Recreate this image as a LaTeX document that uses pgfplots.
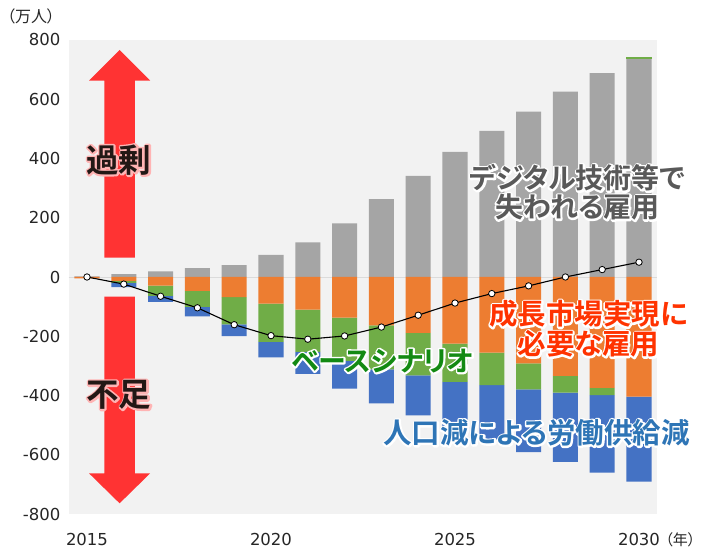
\documentclass[border=0pt]{standalone}
\usepackage{pgfplots}
\pgfplotsset{compat=1.18}
\usepackage{pgfplotstable}
\usepackage{fontspec}
\setmainfont{DejaVu Sans}
\newfontfamily\jp{Noto Sans CJK JP}[BoldFont={Noto Sans CJK JP Bold}, RawFeature=+palt]
\usetikzlibrary{calc}

\definecolor{cgray}{HTML}{A5A5A5}
\definecolor{corange}{HTML}{ED7D31}
\definecolor{cgreen}{HTML}{70AD47}
\definecolor{cblue}{HTML}{4472C4}
\definecolor{bgc}{HTML}{F2F2F2}
\definecolor{arrowred}{HTML}{FF3333}
\definecolor{tgray}{HTML}{595959}
\definecolor{tred}{HTML}{FF3300}
\definecolor{tgreen}{HTML}{138A13}
\definecolor{tblue}{HTML}{2E75B6}
\definecolor{tblack}{HTML}{231815}
\definecolor{glowpink}{HTML}{FFB4B4}

\pgfplotstableread{
year gray greenpos orange greenneg blue net
2015 2 0 -5 0 0 0
2016 10 0 -13 -7 -14 -24
2017 19 0 -29 -35 -20 -65
2018 30 0 -47 -54 -32 -104
2019 40 0 -68 -92 -40 -161
2020 75 0 -90 -129 -52 -198
2021 117 0 -110 -143 -74 -210
2022 181 0 -137 -146 -94 -199
2023 263 0 -163 -149 -115 -169
2024 341 0 -189 -143 -135 -129
2025 422 0 -225 -129 -156 -88
2026 493 0 -255 -110 -184 -56
2027 558 0 -292 -87 -212 -30
2028 626 0 -334 -56 -234 0
2029 688 0 -374 -25 -261 25
2030 735 8 -404 0 -287 50
}\data

\pgfplotsset{base/.style={scale only axis, width=588.8pt, height=474pt,
  xmin=2014.5, xmax=2030.5, ymin=-800, ymax=800, at={(0pt,0pt)}, anchor=south west}}

% outlined text: one stroked copy (text render mode 1) under one filled copy
\newcommand\otext[5]{%
  \node[#4,text=#3] at (#1) {\special{pdf:literal direct 1 Tr 3.6 w 1 j 1 J}#5\special{pdf:literal direct 0 Tr}};
  \node[#4,text=#2] at (#1) {#5};}

\begin{document}
\begin{tikzpicture}
\path[use as bounding box] (-68.6pt,-34pt) rectangle (633.4pt,514pt);

\begin{axis}[base, ybar stacked, bar width=0.68,
  axis background/.style={fill=bgc},
  axis line style={draw=none}, major tick length=0pt,
  xtick={2015,2020,2025,2030}, xticklabels={2015,2020,2025,2030},
  ytick={-800,-600,...,800},
  yticklabels={-800,-600,-400,-200,0,200,400,600,800},
  ticklabel style={font=\fontsize{16.5}{18}\selectfont, text=black!85},
  yticklabel style={anchor=east, inner sep=0pt, xshift=-8pt},
  xticklabel style={anchor=north, inner sep=0pt, yshift=-19pt}]
\draw[color=black!14, line width=0.8pt] (axis cs:2014.5,0) -- (axis cs:2030.5,0);
\addplot[fill=cgray, draw=none] table[x=year,y=gray]{\data};
\addplot[fill=cgreen, draw=none] table[x=year,y=greenpos]{\data};
\end{axis}

\begin{axis}[base, hide axis, ybar stacked, bar width=0.68]
\addplot[fill=corange, draw=none] table[x=year,y=orange]{\data};
\addplot[fill=cgreen, draw=none] table[x=year,y=greenneg]{\data};
\addplot[fill=cblue, draw=none] table[x=year,y=blue]{\data};
\end{axis}

\begin{axis}[base, hide axis]
\addplot[black, line width=1.1pt, mark=*, mark size=3.2pt,
  mark options={fill=white, draw=black, line width=0.8pt}] table[x=year,y=net]{\data};
\end{axis}

% arrows
\fill[arrowred] (35.7pt,256.3pt) -- (35.7pt,433.3pt) -- (20.4pt,433.3pt) -- (51pt,464pt)
  -- (81.6pt,433.3pt) -- (66.3pt,433.3pt) -- (66.3pt,256.3pt) -- cycle;
\fill[arrowred] (35.7pt,217.3pt) -- (35.7pt,40.7pt) -- (20.4pt,40.7pt) -- (51pt,10.7pt)
  -- (81.6pt,40.7pt) -- (66.3pt,40.7pt) -- (66.3pt,217.3pt) -- cycle;

\otext{50.4pt,354pt}{tblack}{glowpink}{font={\jp\bfseries\fontsize{32.5}{34}\selectfont}, inner sep=0pt}{過剰}
\otext{50.4pt,119pt}{tblack}{glowpink}{font={\jp\bfseries\fontsize{32.5}{34}\selectfont}, inner sep=0pt}{不足}

\otext{508.9pt,321.5pt}{tgray}{white}{font={\jp\bfseries\fontsize{28}{29}\selectfont}, align=center, inner sep=0pt}{デジタル技術等で\\失われる雇用}
\otext{519.9pt,185pt}{tred}{white}{font={\jp\bfseries\fontsize{28.5}{30}\selectfont}, align=center, inner sep=0pt}{成長市場実現に\\必要な雇用}
\otext{313.9pt,153pt}{tgreen}{white}{font={\jp\bfseries\fontsize{28}{29}\selectfont}, inner sep=0pt}{ベースシナリオ}
\otext{468.1pt,81pt}{tblue}{white}{font={\jp\bfseries\fontsize{28.5}{29}\selectfont}, inner sep=0pt}{人口減による労働供給減}

\node[font={\jp\fontsize{16}{18}\selectfont}, text=black!85, inner sep=0pt] at (-37.6pt,498pt) {（万人）};
\node[font={\jp\fontsize{15}{18}\selectfont}, text=black!85, inner sep=0pt, anchor=east] at (627pt,-26pt) {（年）};
\end{tikzpicture}
\end{document}
